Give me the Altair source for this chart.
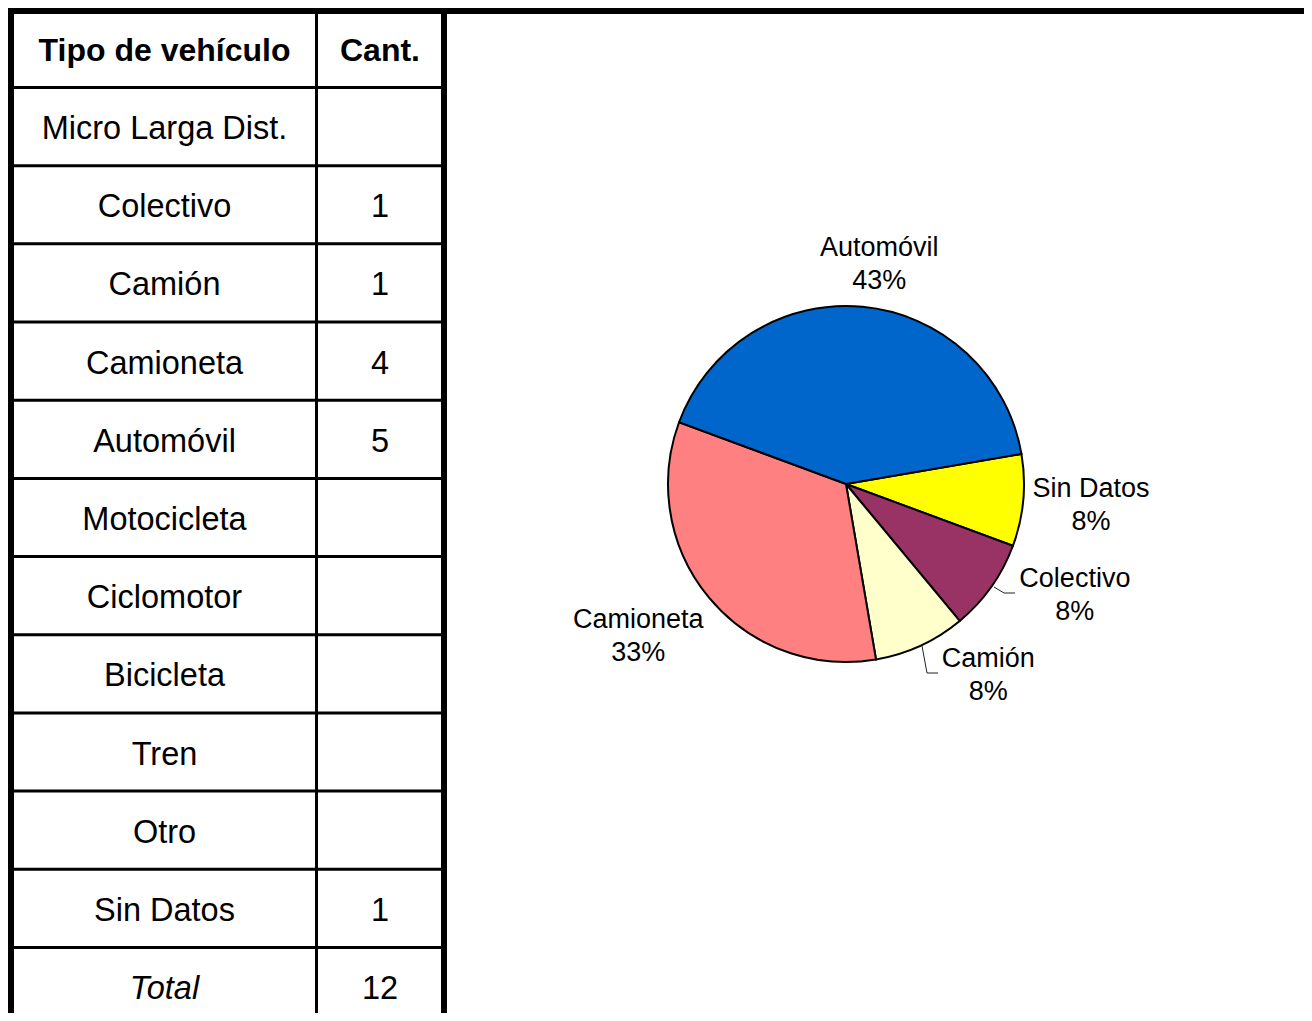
import math
import altair as alt
import pandas as pd

# ---------------- data ----------------
header = ["Tipo de vehículo", "Cant."]
tipos = ["Micro Larga Dist.", "Colectivo", "Camión", "Camioneta", "Automóvil",
         "Motocicleta", "Ciclomotor", "Bicicleta", "Tren", "Otro", "Sin Datos"]
cantidades = ["", "1", "1", "4", "5", "", "", "", "", "", "1"]
total_label = "Total"
total_value = "12"

pie_cats = ["Sin Datos", "Colectivo", "Camión", "Camioneta", "Automóvil"]
pie_counts = [1, 1, 1, 4, 5]
pie_pcts = ["8%", "8%", "8%", "33%", "43%"]
pie_colors = ["#FFFF00", "#993366", "#FFFFCC", "#FF8080", "#0066CC"]

# ---------------- layout ----------------
FONT = "Liberation Sans"
W, H = 1296, 1005
COL1_X, COL2_X = 156.5, 372
LEFT_X, DIV_X, RIGHT_X = 3, 308.5, 436
ROW_H = 78.18
n_rows = len(tipos) + 2
yscale = alt.Scale(domain=[0, n_rows], range=[1.3, 1.3 + ROW_H * n_rows])

table = pd.DataFrame({
    "tipo": [header[0]] + tipos + [total_label],
    "cant": [header[1]] + cantidades + [total_value],
    "pos": [i + 0.5 for i in range(n_rows)],
    "kind": ["head"] + ["body"] * len(tipos) + ["total"],
})
bounds = pd.DataFrame({"b": list(range(1, n_rows + 1))})
one = pd.DataFrame({"a": [0]})


def col_text(field, xpos, kind, dy, **kw):
    return (
        alt.Chart(table)
        .transform_filter(alt.datum.kind == kind)
        .mark_text(font=FONT, align="center", baseline="middle", color="black",
                   dy=dy, **kw)
        .encode(x=alt.value(xpos), y=alt.Y("pos:Q", scale=yscale, axis=None),
                text=alt.Text(f"{field}:N"))
    )


layers = []
layers.append(col_text("tipo", COL1_X, "head", 3, fontSize=32, fontWeight="bold"))
layers.append(col_text("cant", COL2_X, "head", 3, fontSize=32, fontWeight="bold"))
layers.append(col_text("tipo", COL1_X, "body", 2.5, fontSize=32.5))
layers.append(col_text("cant", COL2_X, "body", 2.5, fontSize=32.5))
layers.append(col_text("tipo", COL1_X, "total", 2.5, fontSize=32.5, fontStyle="italic"))
layers.append(col_text("cant", COL2_X, "total", 2.5, fontSize=32.5))

# horizontal grid lines of the table
layers.append(
    alt.Chart(bounds).mark_rule(stroke="black", strokeWidth=3).encode(
        y=alt.Y("b:Q", scale=yscale, axis=None),
        x=alt.value(LEFT_X), x2=alt.value(RIGHT_X))
)
# frame lines
def vrule(x, w):
    return alt.Chart(one).mark_rule(stroke="black", strokeWidth=w).encode(
        x=alt.value(x), y=alt.value(0), y2=alt.value(H))

layers.append(vrule(LEFT_X, 6))
layers.append(vrule(DIV_X, 3))
layers.append(vrule(RIGHT_X, 6))
layers.append(
    alt.Chart(one).mark_rule(stroke="black", strokeWidth=6).encode(
        y=alt.value(3), x=alt.value(0), x2=alt.value(W))
)

# ---------------- pie ----------------
CX, CY, R = 838, 476, 178
pie_df = pd.DataFrame({"cat": pie_cats, "count": pie_counts, "pct": pie_pcts,
                       "ord": list(range(len(pie_cats)))})
pie_df["label"] = pie_df["cat"] + "\n" + pie_df["pct"]
start = math.radians(80.3)
theta = alt.Theta("count:Q", stack=True,
                  scale=alt.Scale(range=[start, start + 2 * math.pi]))
color = alt.Color("cat:N", scale=alt.Scale(domain=pie_cats, range=pie_colors), legend=None)

layers.append(
    alt.Chart(pie_df).mark_arc(outerRadius=R, stroke="black", strokeWidth=2).encode(
        theta=theta, color=color, order=alt.Order("ord:Q"),
        x=alt.value(CX), y=alt.value(CY))
)

offsets = {
    "Automóvil": (11, 2.5),
    "Sin Datos": (6, -17),
    "Colectivo": (33, -44),
    "Camión": (42, -43),
    "Camioneta": (-23, -17),
}
for cat, (dx, dy) in offsets.items():
    layers.append(
        alt.Chart(pie_df)
        .transform_calculate(t=f"datum.cat == '{cat}' ? datum.label : ''")
        .mark_text(radius=240, dx=dx, dy=dy, lineBreak="\n", fontSize=27,
                   lineHeight=33, font=FONT, color="black", align="center",
                   baseline="middle")
        .encode(theta=theta, order=alt.Order("ord:Q"), text=alt.Text("t:N"),
                x=alt.value(CX), y=alt.value(CY))
    )

# leader lines
def seg(x1, y1, x2, y2):
    return alt.Chart(one).mark_rule(stroke="#222222", strokeWidth=1).encode(
        x=alt.value(x1), y=alt.value(y1), x2=alt.value(x2), y2=alt.value(y2))

layers += [seg(986, 579, 996, 585), seg(996, 585, 1007, 585),
           seg(914, 638, 919, 665), seg(919, 665, 930, 665)]

chart = (
    alt.layer(*layers)
    .properties(width=W, height=H, padding=0,
                autosize=alt.AutoSizeParams(type="none"))
    .configure(background="white")
    .configure_view(stroke=None)
)

chart.save("out.html", embed_options={"renderer": "svg", "actions": False})
